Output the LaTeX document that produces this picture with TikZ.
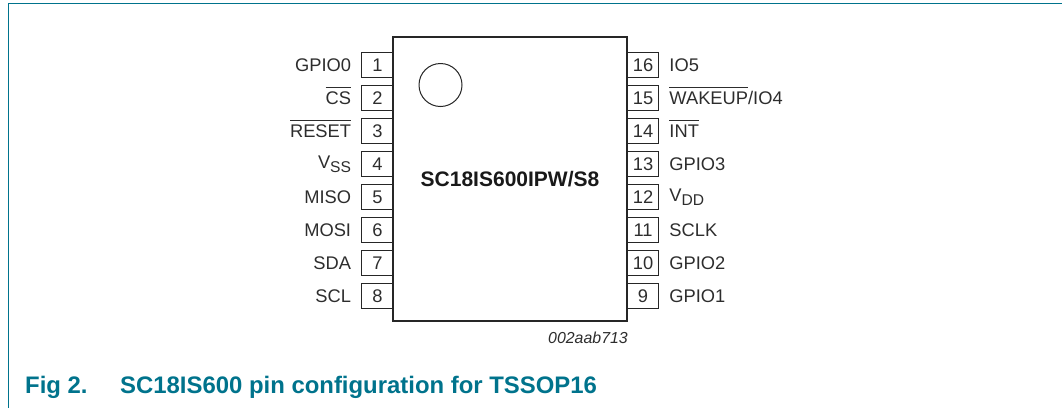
\documentclass[tikz,border=0pt]{standalone}
\usepackage{fontspec}
\setmainfont{Liberation Sans}
\usetikzlibrary{positioning}
\definecolor{nxpteal}{RGB}{0,115,140}
\definecolor{pintext}{RGB}{45,45,45}
\newcommand{\ovl}[1]{\raisebox{0pt}[0.72em][0pt]{$\overline{\mbox{\rule{0pt}{0.86em}#1}}$}}
\newcommand{\lowsub}[1]{\raisebox{-0.24em}{\fontsize{15.6}{18}\selectfont #1}}
\begin{document}
\begin{tikzpicture}[x=1pt,y=-1pt,
    pinbox/.style={draw=black!85,line width=1pt,minimum width=31.5pt,minimum height=24.5pt,inner sep=0pt,font=\fontsize{18.3}{20}\selectfont,text=pintext},
    pinlabel/.style={inner sep=0pt,font=\fontsize{18.3}{20}\selectfont,text=pintext},
    chiplabel/.style={inner sep=0pt,font=\fontsize{21}{24}\selectfont\bfseries,text=black!90},
    figcaption/.style={inner sep=0pt,anchor=base west,font=\fontsize{23.9}{28}\selectfont\bfseries,text=nxpteal}]
    \useasboundingbox (0,0) rectangle (1062,408);
    \coordinate (frametop) at (1062,3);
    \coordinate (framecorner) at (8,3);
    \coordinate (framebot) at (8,408);
    \draw [nxpteal,line width=1pt] (frametop) -- (framecorner) -- (framebot);
    % left pins
    \foreach \n/\name in {1/GPIO0,2/\ovl{CS},3/\ovl{RESET},4/V\lowsub{SS},5/MISO,6/MOSI,7/SDA,8/SCL} {
        \node [pinbox] (pin\n) at (377.5,{65+33*(\n-1)}) {\n};
        \node [pinlabel,left=10pt of pin\n] (name\n) {\name};
    }
    % right pins
    \foreach \n/\name in {16/IO5,15/{\ovl{WAKEUP}/IO4},14/\ovl{INT},13/GPIO3,12/V\lowsub{DD},11/SCLK,10/GPIO2,9/GPIO1} {
        \node [pinbox] (pin\n) at (643,{65+33*(16-\n)}) {\n};
        \node [pinlabel,right=10pt of pin\n] (name\n) {\name};
    }
    \node [draw=black!85,fill=white,line width=2.2pt,minimum width=234pt,minimum height=284pt,inner sep=0pt] (chip) at (510,179) {};
    \node [chiplabel] (partname) at (510,179) {SC18IS600IPW/S8};
    \node [draw=black!85,circle,line width=1pt,minimum size=43pt,inner sep=0pt] (dot) at (440.5,85) {};
    \node [inner sep=0pt,font=\fontsize{15.9}{18}\selectfont\itshape,text=pintext,anchor=base east] (code) at (628,343) {002aab713};
    \node [figcaption] (fignum) at (25,393) {Fig 2.};
    \node [figcaption] (figtitle) at (120,393) {SC18IS600 pin configuration for TSSOP16};
\end{tikzpicture}
\end{document}
